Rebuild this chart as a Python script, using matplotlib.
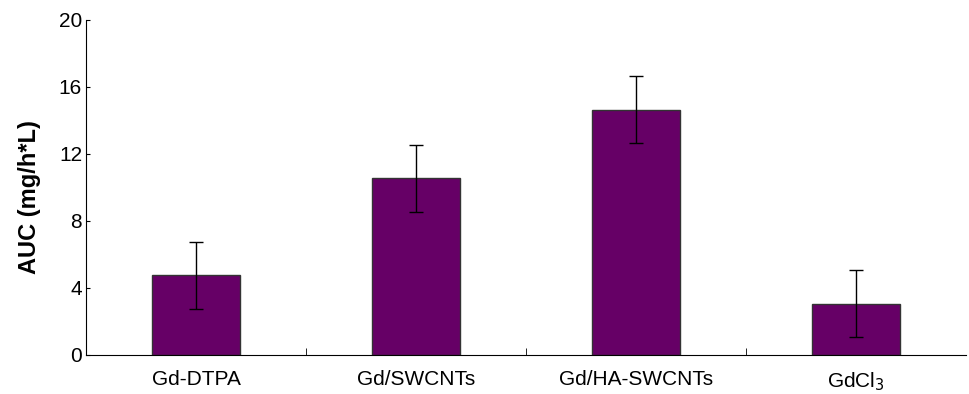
import numpy as np
import matplotlib
matplotlib.use('Agg')
import matplotlib.pyplot as plt

plt.rcParams['font.family'] = ['Liberation Sans', 'DejaVu Sans']

categories = ['Gd-DTPA', 'Gd/SWCNTs', 'Gd/HA-SWCNTs', 'GdCl$_3$']
auc = [4.75, 10.55, 14.62, 3.07]
auc_err = [2.0, 2.0, 2.0, 2.0]

fig = plt.figure(figsize=(9.69, 3.94), dpi=100)
ax = fig.add_axes([0.089, 0.099, 0.908, 0.851])

x = np.arange(len(categories))
ax.bar(x, auc, width=0.4, color='#660066', edgecolor='#333333', linewidth=1.0,
       yerr=auc_err, error_kw=dict(ecolor='black', elinewidth=1.0, capsize=5, capthick=1.0))

ax.set_xlim(-0.5, len(categories) - 0.5)
ax.set_ylim(0, 20)
ax.set_yticks([0, 4, 8, 12, 16, 20])
ax.set_xticks(x)
ax.set_xticklabels(categories)
ax.set_xticks(x[:-1] + 0.5, minor=True)
ax.tick_params(axis='x', which='major', length=0, pad=11, labelsize=15)
ax.tick_params(axis='x', which='minor', direction='in', length=5)
ax.tick_params(axis='y', direction='in', length=3, labelsize=15, pad=3)
ax.set_ylabel('AUC (mg/h*L)', fontsize=17, fontweight='bold')
ax.yaxis.set_label_coords(-0.051, 0.47)

for s in ['top', 'right']:
    ax.spines[s].set_visible(False)

fig.savefig('out.png', dpi=100)
